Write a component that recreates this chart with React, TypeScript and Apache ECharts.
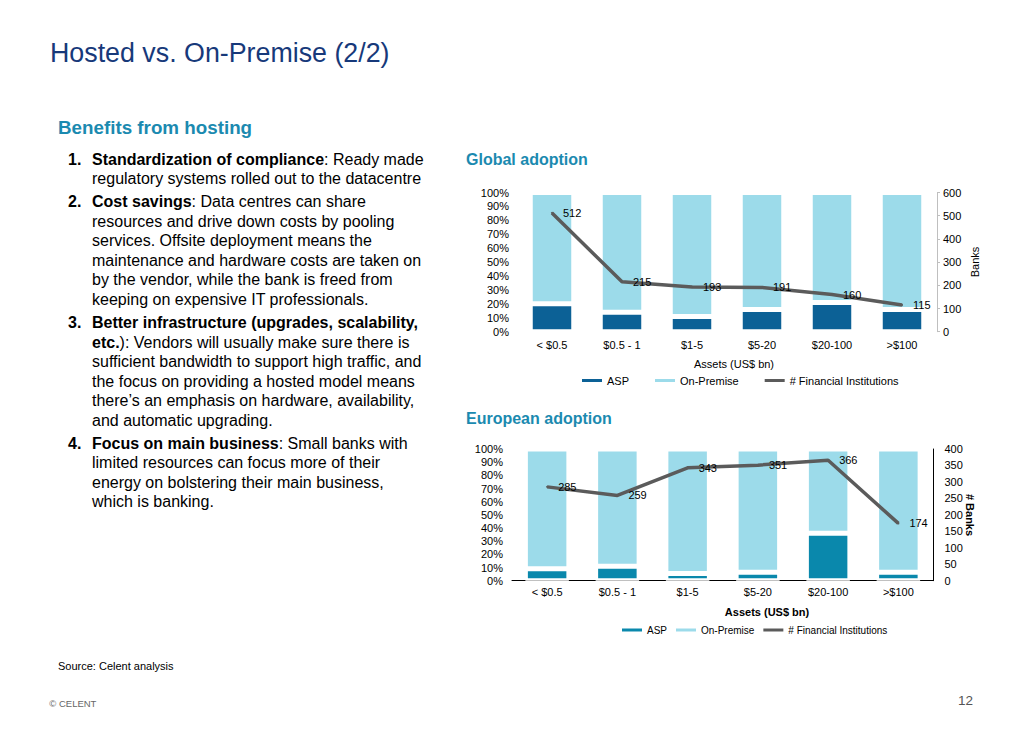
import React, { useEffect, useRef } from "react";
import * as echarts from "echarts";

const FONT = "'Liberation Sans', Arial, Helvetica, sans-serif";

const categories = ["< $0.5", "$0.5 - 1", "$1-5", "$5-20", "$20-100", ">$100"];
const globalAsp = [20, 14, 11, 16, 21, 16];
const globalOnPremise = [80, 86, 89, 84, 79, 84];
const globalInstitutions = [512, 215, 193, 191, 160, 115];
const europeAsp = [9, 11, 5.5, 6.5, 36, 6.5];
const europeOnPremise = [91, 89, 94.5, 93.5, 64, 93.5];
const europeInstitutions = [285, 259, 343, 351, 366, 174];
const legendNames = ["ASP", "On-Premise", "# Financial Institutions"];

const GLOBAL_ASP_COLOR = "#0c6196";
const EUROPE_ASP_COLOR = "#0a88ac";
const ONPREM_COLOR = "#9cdbea";
const LINE_COLOR = "#5b5b5b";
const TEAL = "#1b8ab0";

function buildOption(): any {
  const barCommon = {
    type: "bar",
    barWidth: 43.5,
    itemStyle: { borderColor: "#fff", borderWidth: 2.5 },
  };
  const lineLabel = {
    show: true,
    position: "right",
    distance: 10,
    fontSize: 11,
    color: "#000",
    fontFamily: FONT,
  };
  const pctAxis = (gridIndex: number, margin: number) => ({
    type: "value",
    gridIndex,
    min: 0,
    max: 100,
    interval: 10,
    axisLine: { show: false },
    axisTick: { show: false },
    splitLine: { show: false },
    axisLabel: { formatter: "{value}%", fontSize: 11, color: "#000", margin },
  });
  const legendItem = (name: string, color: string) => ({
    name,
    itemStyle: { color, borderWidth: 0, borderColor: color },
  });
  return {
    animation: false,
    textStyle: { fontFamily: FONT },
    title: [
      {
        text: "Global adoption",
        left: 466,
        top: 151,
        padding: 0,
        textStyle: { fontSize: 16, fontWeight: "bold", color: TEAL, fontFamily: FONT },
      },
      {
        text: "European adoption",
        left: 466,
        top: 410,
        padding: 0,
        textStyle: { fontSize: 16, fontWeight: "bold", color: TEAL, fontFamily: FONT },
      },
    ],
    grid: [
      { left: 517, width: 420, top: 192.5, height: 139.2 },
      { left: 512, width: 421.5, top: 449, height: 131.7 },
    ],
    xAxis: [
      {
        type: "category",
        gridIndex: 0,
        data: categories,
        axisLine: { show: false },
        axisTick: { show: false },
        axisLabel: { fontSize: 11, color: "#000", margin: 8 },
      },
      {
        type: "category",
        gridIndex: 1,
        data: categories,
        axisLine: { show: true, lineStyle: { color: "#000", width: 1 } },
        axisTick: { show: false },
        axisLabel: { fontSize: 11, color: "#000", margin: 6 },
      },
    ],
    yAxis: [
      pctAxis(0, 8),
      {
        type: "value",
        gridIndex: 0,
        position: "right",
        min: 0,
        max: 600,
        interval: 100,
        axisLine: { show: true, lineStyle: { color: "#bfbfbf" } },
        axisTick: { show: true, length: 3, lineStyle: { color: "#bfbfbf" } },
        splitLine: { show: false },
        axisLabel: { fontSize: 11, color: "#000", margin: 6 },
      },
      pctAxis(1, 9),
      {
        type: "value",
        gridIndex: 1,
        position: "right",
        min: 0,
        max: 400,
        interval: 50,
        axisLine: { show: true, lineStyle: { color: "#000" } },
        axisTick: { show: false },
        splitLine: { show: false },
        axisLabel: { fontSize: 11, color: "#000", margin: 11 },
      },
    ],
    legend: [
      {
        left: 577,
        top: 370,
        icon: "rect",
        itemWidth: 20,
        itemHeight: 3,
        itemGap: 26,
        textStyle: { fontSize: 11, color: "#000", fontFamily: FONT },
        data: [
          legendItem(legendNames[0], GLOBAL_ASP_COLOR),
          legendItem(legendNames[1], ONPREM_COLOR),
          legendItem(legendNames[2], LINE_COLOR),
        ],
      },
      {
        left: 617,
        top: 620,
        icon: "rect",
        itemWidth: 20,
        itemHeight: 3,
        itemGap: 9,
        textStyle: { fontSize: 10, color: "#000", fontFamily: FONT },
        data: [
          legendItem(legendNames[0], EUROPE_ASP_COLOR),
          legendItem(legendNames[1], ONPREM_COLOR),
          legendItem(legendNames[2], LINE_COLOR),
        ],
      },
    ],
    series: [
      {
        ...barCommon,
        name: legendNames[0],
        xAxisIndex: 0,
        yAxisIndex: 0,
        stack: "global",
        data: globalAsp,
        itemStyle: { ...barCommon.itemStyle, color: GLOBAL_ASP_COLOR },
      },
      {
        ...barCommon,
        name: legendNames[1],
        xAxisIndex: 0,
        yAxisIndex: 0,
        stack: "global",
        data: globalOnPremise,
        itemStyle: { ...barCommon.itemStyle, color: ONPREM_COLOR },
      },
      {
        name: legendNames[2],
        type: "line",
        xAxisIndex: 0,
        yAxisIndex: 1,
        data: globalInstitutions,
        showSymbol: true,
        symbol: "circle",
        symbolSize: 2,
        z: 5,
        lineStyle: { color: LINE_COLOR, width: 3.5 },
        itemStyle: { color: LINE_COLOR },
        label: lineLabel,
      },
      {
        ...barCommon,
        name: legendNames[0],
        xAxisIndex: 1,
        yAxisIndex: 2,
        stack: "europe",
        data: europeAsp,
        itemStyle: { ...barCommon.itemStyle, color: EUROPE_ASP_COLOR },
      },
      {
        ...barCommon,
        name: legendNames[1],
        xAxisIndex: 1,
        yAxisIndex: 2,
        stack: "europe",
        data: europeOnPremise,
        itemStyle: { ...barCommon.itemStyle, color: ONPREM_COLOR },
      },
      {
        name: legendNames[2],
        type: "line",
        xAxisIndex: 1,
        yAxisIndex: 3,
        data: europeInstitutions,
        showSymbol: true,
        symbol: "circle",
        symbolSize: 2,
        z: 5,
        lineStyle: { color: LINE_COLOR, width: 3.5 },
        itemStyle: { color: LINE_COLOR },
        label: lineLabel,
      },
    ],
    graphic: [
      {
        type: "text",
        x: 734,
        y: 364,
        style: { text: "Assets (US$ bn)", fontSize: 11, fontFamily: FONT, fill: "#000", align: "center", verticalAlign: "middle" },
      },
      {
        type: "text",
        x: 767,
        y: 612,
        style: { text: "Assets (US$ bn)", fontSize: 11, fontWeight: "bold", fontFamily: FONT, fill: "#000", align: "center", verticalAlign: "middle" },
      },
      {
        type: "text",
        x: 975,
        y: 262,
        rotation: Math.PI / 2,
        style: { text: "Banks", fontSize: 11, fontFamily: FONT, fill: "#000", align: "center", verticalAlign: "middle" },
      },
      {
        type: "text",
        x: 970,
        y: 515,
        rotation: -Math.PI / 2,
        style: { text: "# Banks", fontSize: 11, fontWeight: "bold", fontFamily: FONT, fill: "#000", align: "center", verticalAlign: "middle" },
      },
    ],
  };
}

const itemStyle: React.CSSProperties = { display: "flex", marginBottom: 3.8 };
const numStyle: React.CSSProperties = { width: 24, flex: "none", fontWeight: "bold" };

export default function App() {
  const ref = useRef<HTMLDivElement>(null);
  useEffect(() => {
    if (!ref.current) return;
    const chart = echarts.init(ref.current, null, { renderer: "svg" });
    chart.setOption(buildOption());
    return () => chart.dispose();
  }, []);

  return (
    <div
      style={{
        position: "absolute",
        left: 0,
        top: 0,
        width: 1024,
        height: 731,
        background: "#fff",
        fontFamily: FONT,
        overflow: "hidden",
      }}
    >
      <div ref={ref} style={{ position: "absolute", left: 0, top: 0, width: 1024, height: 731 }} />
      <div
        style={{
          position: "absolute",
          left: 50,
          top: 40,
          fontSize: 26.8,
          lineHeight: "26.8px",
          color: "#17397a",
          whiteSpace: "nowrap",
          pointerEvents: "none",
        }}
      >
        Hosted vs. On-Premise (2/2)
      </div>
      <div
        style={{
          position: "absolute",
          left: 58,
          top: 119.2,
          fontSize: 18.8,
          lineHeight: "18.8px",
          fontWeight: "bold",
          color: TEAL,
          whiteSpace: "nowrap",
          pointerEvents: "none",
        }}
      >
        Benefits from hosting
      </div>
      <div
        style={{
          position: "absolute",
          left: 68,
          top: 149.6,
          fontSize: 16,
          lineHeight: "19.5px",
          color: "#000",
          whiteSpace: "nowrap",
          pointerEvents: "none",
        }}
      >
        <div style={itemStyle}>
          <div style={numStyle}>1.</div>
          <div>
            <b>Standardization of compliance</b>: Ready made
            <br />
            regulatory systems rolled out to the datacentre
          </div>
        </div>
        <div style={itemStyle}>
          <div style={numStyle}>2.</div>
          <div>
            <b>Cost savings</b>: Data centres can share
            <br />
            resources and drive down costs by pooling
            <br />
            services. Offsite deployment means the
            <br />
            maintenance and hardware costs are taken on
            <br />
            by the vendor, while the bank is freed from
            <br />
            keeping on expensive IT professionals.
          </div>
        </div>
        <div style={itemStyle}>
          <div style={numStyle}>3.</div>
          <div>
            <b>Better infrastructure (upgrades, scalability,</b>
            <br />
            <b>etc.</b>): Vendors will usually make sure there is
            <br />
            sufficient bandwidth to support high traffic, and
            <br />
            the focus on providing a hosted model means
            <br />
            there’s an emphasis on hardware, availability,
            <br />
            and automatic upgrading.
          </div>
        </div>
        <div style={itemStyle}>
          <div style={numStyle}>4.</div>
          <div>
            <b>Focus on main business</b>: Small banks with
            <br />
            limited resources can focus more of their
            <br />
            energy on bolstering their main business,
            <br />
            which is banking.
          </div>
        </div>
      </div>
      <div
        style={{
          position: "absolute",
          left: 58,
          top: 661.2,
          fontSize: 11,
          lineHeight: "11px",
          color: "#000",
          whiteSpace: "nowrap",
          pointerEvents: "none",
        }}
      >
        Source: Celent analysis
      </div>
      <div
        style={{
          position: "absolute",
          left: 49.3,
          top: 698.5,
          fontSize: 9.5,
          lineHeight: "9.5px",
          color: "#666",
          whiteSpace: "nowrap",
          pointerEvents: "none",
        }}
      >
        © CELENT
      </div>
      <div
        style={{
          position: "absolute",
          left: 958,
          top: 694,
          fontSize: 13.5,
          lineHeight: "13.5px",
          color: "#555",
          whiteSpace: "nowrap",
          pointerEvents: "none",
        }}
      >
        12
      </div>
    </div>
  );
}
